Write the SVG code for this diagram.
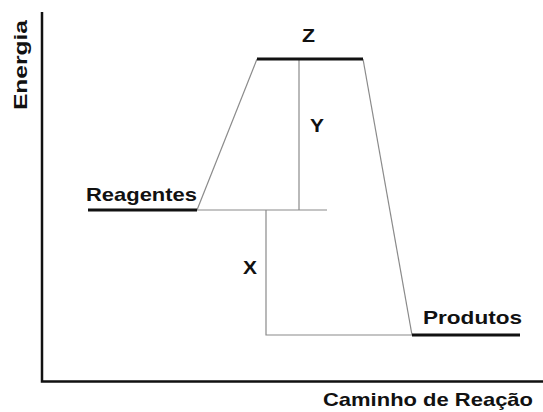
<svg xmlns="http://www.w3.org/2000/svg" width="543" height="412" viewBox="0 0 543 412">
<style>
text{font-family:"Liberation Sans",Arial,sans-serif;font-weight:bold;fill:#111;font-size:19px}
.thin{stroke:#8a8a8a;stroke-width:1.2;fill:none}
.thick{stroke:#111;stroke-width:3;fill:none}
.axis{stroke:#111;stroke-width:2.5;fill:none}
</style>
<rect width="543" height="412" fill="#fff"/>
<g id="axes">
<path class="axis" d="M42 12 V381.5 H543"/>
<text id="ylabel" transform="translate(27 110) rotate(-90)" textLength="90" lengthAdjust="spacingAndGlyphs">Energia</text>
<text id="xlabel" x="323" y="406" textLength="210" lengthAdjust="spacingAndGlyphs">Caminho de Reação</text>
</g>
<g id="connectors">
<path class="thin" d="M197 210 L257 59"/>
<path class="thin" d="M363 59 L412 335"/>
<path class="thin" d="M197 210 H327"/>
<path class="thin" d="M299 59 V210"/>
<path class="thin" d="M266 210 V335 H412"/>
</g>
<g id="reagentes">
<path class="thick" d="M88 210 H197"/>
<text x="86" y="201" textLength="111" lengthAdjust="spacingAndGlyphs">Reagentes</text>
</g>
<g id="z">
<path class="thick" d="M257 59 H363"/>
<text x="302" y="42" textLength="13" lengthAdjust="spacingAndGlyphs">Z</text>
</g>
<g id="y">
<text x="310" y="132" textLength="14" lengthAdjust="spacingAndGlyphs">Y</text>
</g>
<g id="x">
<text x="243" y="274" textLength="14" lengthAdjust="spacingAndGlyphs">X</text>
</g>
<g id="produtos">
<path class="thick" d="M412 335 H520"/>
<text x="423" y="324" textLength="99" lengthAdjust="spacingAndGlyphs">Produtos</text>
</g>
</svg>
